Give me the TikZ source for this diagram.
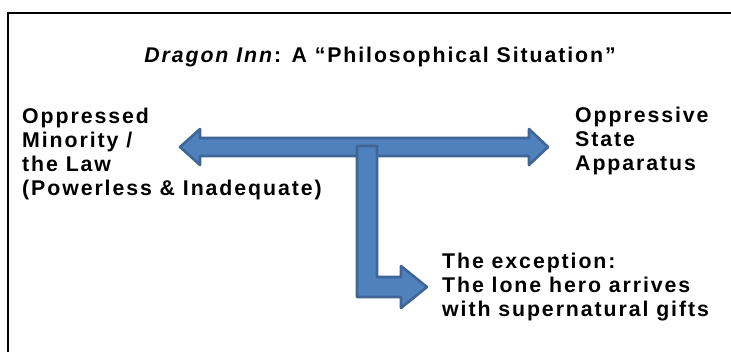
\documentclass[tikz,border=0pt]{standalone}
\usepackage{fontspec}
\setmainfont{Liberation Sans}[LetterSpace=9]
\definecolor{arrowfill}{HTML}{4F81BD}
\definecolor{arrowline}{HTML}{3F6696}
\begin{document}
\begin{tikzpicture}[x=1pt,y=-1pt,
  lbl/.style={font=\bfseries\fontsize{21.3}{24}\selectfont, align=left, inner sep=0pt, anchor=base west},
  arrowshape/.style={fill=arrowfill, draw=arrowline, line width=2.6pt, line join=round}]
\useasboundingbox (0,0) rectangle (731,351);
\fill[white] (0,0) rectangle (731,351);
% frame (only top and left edges visible)
\draw[line width=2.2pt] (8,360) -- (8,13) -- (740,13);
% title
\node[font=\bfseries\fontsize{21.3}{24}\selectfont, inner sep=0pt, anchor=base] (title) at (380,62)
  {\textit{Dragon Inn}: A “Philosophical Situation”};
% horizontal double arrow
\draw[arrowshape] (180,147) -- (200,129) -- (200,138) -- (529,138) -- (529,129) -- (548,147)
  -- (529,165) -- (529,156) -- (200,156) -- (200,165) -- cycle;
% bent arrow
\draw[arrowshape] (357,146) -- (377,146) -- (377,277) -- (401,277) -- (401,266) -- (427,287)
  -- (401,308) -- (401,297) -- (357,297) -- cycle;
% texts (anchor = baseline of the last line)
\node[lbl] (left) at (22,195) {Oppressed\\Minority /\\the Law\\(Powerless \& Inadequate)};
\node[lbl] (right) at (575,170) {Oppressive\\State\\Apparatus};
\node[lbl] (exc) at (442,316) {The exception:\\The lone hero arrives\\with supernatural gifts};
\end{tikzpicture}
\end{document}
